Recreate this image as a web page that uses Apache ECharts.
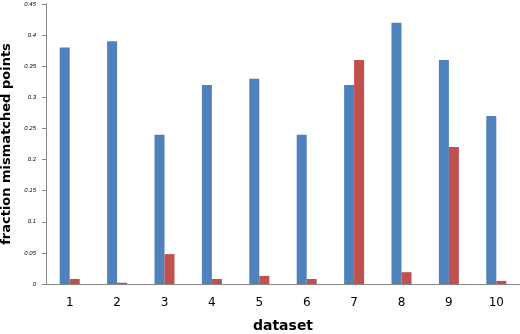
<!DOCTYPE html>
<html>
<head>
<meta charset="utf-8">
<script src="https://cdn.jsdelivr.net/npm/echarts@6/dist/echarts.min.js"></script>
<style>
  html, body { margin: 0; padding: 0; background: #fff; }
  #chart { width: 520px; height: 334px; }
</style>
</head>
<body>
<div id="chart"></div>
<script>
const categories = ['1', '2', '3', '4', '5', '6', '7', '8', '9', '10']
const blueValues = [0.38, 0.39, 0.24, 0.32, 0.33, 0.24, 0.32, 0.42, 0.36, 0.27]
const redValues = [0.008, 0.002, 0.048, 0.008, 0.013, 0.008, 0.36, 0.019, 0.22, 0.005]

const axisGray = '#868686'

const chart = echarts.init(document.getElementById('chart'))
chart.setOption({
  animation: false,
  grid: {
    left: 46,
    right: 0,
    top: 4,
    bottom: 50,
    outerBoundsMode: 'none',
    containLabel: false
  },
  xAxis: {
    type: 'category',
    data: categories,
    name: 'dataset',
    nameLocation: 'middle',
    nameGap: 35,
    nameTextStyle: {
      fontFamily: 'DejaVu Sans',
      fontWeight: 'bold',
      fontSize: 14,
      color: '#000'
    },
    axisLine: { lineStyle: { color: axisGray } },
    axisTick: { show: false },
    axisLabel: {
      margin: 13,
      fontFamily: 'DejaVu Sans',
      fontSize: 12,
      color: '#000'
    }
  },
  yAxis: {
    type: 'value',
    min: 0,
    max: 0.45,
    interval: 0.05,
    name: 'fraction mismatched points',
    nameLocation: 'middle',
    nameGap: 30,
    nameTextStyle: {
      fontFamily: 'DejaVu Sans',
      fontWeight: 'bold',
      fontSize: 13,
      color: '#000'
    },
    axisLine: { show: true, lineStyle: { color: axisGray } },
    axisTick: { show: true, length: 4, lineStyle: { color: axisGray } },
    splitLine: { show: false },
    axisLabel: {
      margin: 10,
      fontFamily: 'Liberation Sans',
      fontStyle: 'italic',
      fontSize: 6,
      color: '#000'
    }
  },
  series: [
    {
      type: 'bar',
      data: blueValues,
      barWidth: 10,
      barGap: '0%',
      itemStyle: { color: '#4F81BD' }
    },
    {
      type: 'bar',
      data: redValues,
      barWidth: 10,
      itemStyle: { color: '#C0504D' }
    }
  ]
})
</script>
</body>
</html>
